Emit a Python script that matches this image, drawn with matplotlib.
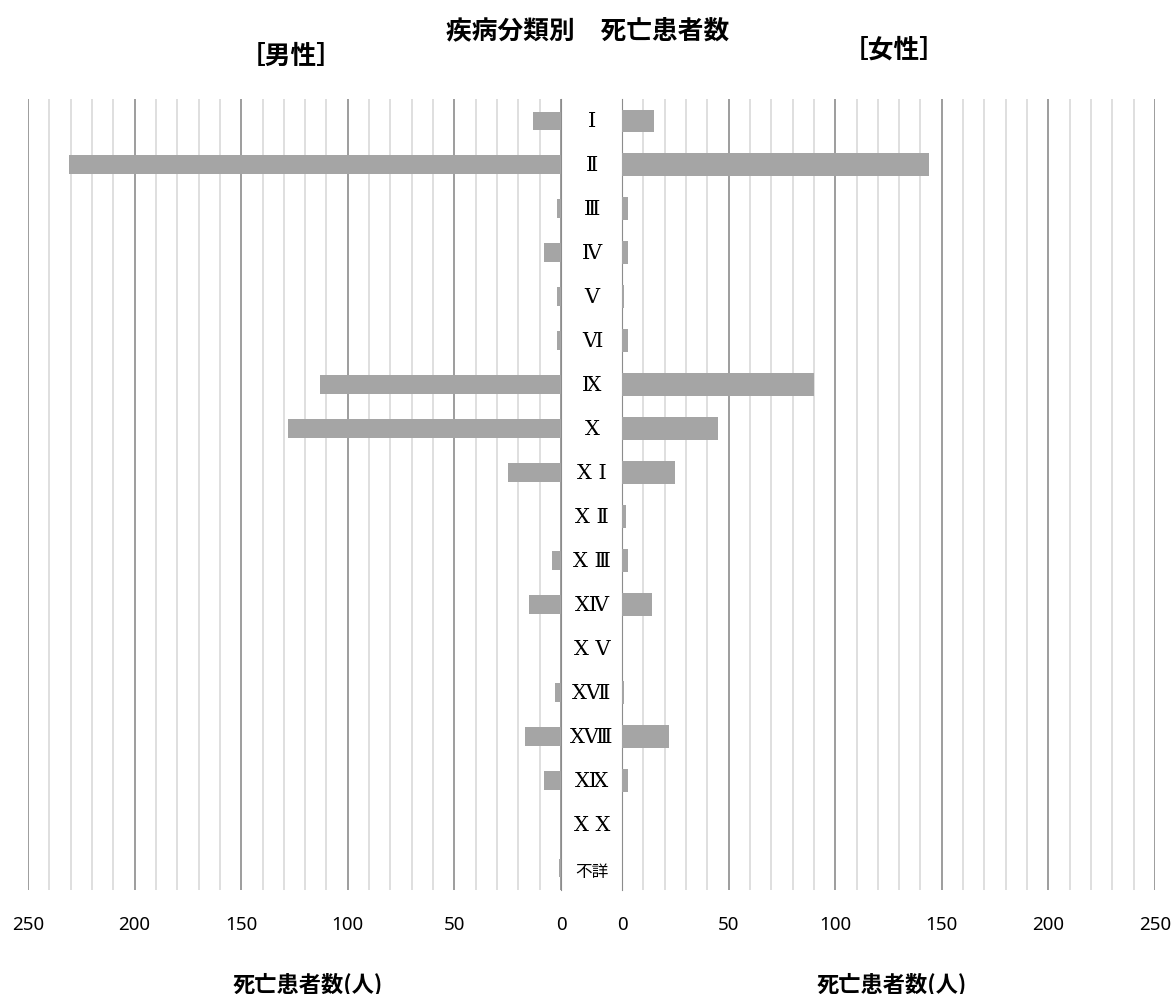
import matplotlib
matplotlib.use("Agg")
import matplotlib.pyplot as plt
import matplotlib.transforms as mtransforms
from matplotlib.ticker import MultipleLocator
import numpy as np

plt.rcParams['font.family'] = ['Noto Sans', 'Noto Sans CJK JP', 'DejaVu Sans']

# 疾病分類
categories = ["Ⅰ", "Ⅱ", "Ⅲ", "Ⅳ", "Ⅴ", "Ⅵ", "Ⅸ", "Ⅹ", "Ⅹ Ⅰ", "Ⅹ Ⅱ",
              "Ⅹ Ⅲ", "ⅩⅣ", "Ⅹ Ⅴ", "ⅩⅦ", "ⅩⅧ", "ⅩⅨ", "Ⅹ Ⅹ", "不詳"]
male = [13, 231, 2, 8, 2, 2, 113, 128, 25, 0, 4, 15, 0, 3, 17, 8, 0, 1]
female = [15, 144, 3, 3, 1, 3, 90, 45, 25, 2, 3, 14, 0, 1, 22, 3, 0, 0]
ticks = [0, 50, 100, 150, 200, 250]

BAR = '#a5a5a5'
MAJOR = '#8c8c8c'
MINOR = '#d9d9d9'

fig = plt.figure(figsize=(11.75, 9.95), dpi=100)
W, H = 1175, 995
top, bottom = 100, 891
axL = fig.add_axes([28 / W, 1 - bottom / H, 533 / W, (bottom - top) / H])
axR = fig.add_axes([622 / W, 1 - bottom / H, 533 / W, (bottom - top) / H])

y = np.arange(len(categories))

for ax, vals, h in ((axL, male, 0.43), (axR, female, 0.52)):
    ax.set_xlim(0, 250)
    ax.set_ylim(len(categories) - 0.5, -0.5)
    ax.xaxis.set_minor_locator(MultipleLocator(10))
    ax.set_xticks(ticks)
    ax.set_xticklabels([str(t) for t in ticks], fontsize=13.5)
    ax.grid(which='minor', axis='x', color=MINOR, linewidth=1.2)
    ax.grid(which='major', axis='x', color=MAJOR, linewidth=1.2)
    ax.set_axisbelow(True)
    ax.barh(y, vals, height=h, color=BAR, zorder=3)
    ax.set_yticks([])
    ax.tick_params(axis='x', which='both', length=0, pad=18)
    for s in ax.spines.values():
        s.set_visible(False)

axL.invert_xaxis()
axL.spines['right'].set_visible(True)
axL.spines['right'].set_color(MAJOR)
axR.spines['left'].set_visible(True)
axR.spines['left'].set_color(MAJOR)

# 中央の分類名
trans = mtransforms.blended_transform_factory(fig.transFigure, axL.transData)
for i, c in enumerate(categories):
    if c == "不詳":
        fig.text(592 / W, i + 0.08, c, transform=trans, ha='center', va='center',
                 fontsize=12, family=['Noto Sans CJK JP'])
    else:
        fig.text(592 / W, i, c, transform=trans, ha='center', va='center',
                 fontsize=15, family=['DejaVu Serif', 'Noto Sans CJK JP'])

fig.text(588 / W, 1 - 31 / H, "疾病分類別　死亡患者数", ha='center', va='center',
         fontsize=18.5, fontweight='bold', family=['Noto Sans CJK JP'])
fig.text(291 / W, 1 - 56 / H, "［男性］", ha='center', va='center',
         fontsize=18.5, fontweight='bold', family=['Noto Sans CJK JP'])
fig.text(894 / W, 1 - 50 / H, "［女性］", ha='center', va='center',
         fontsize=18.5, fontweight='bold', family=['Noto Sans CJK JP'])
fig.text(308 / W, 1 - 985 / H, "死亡患者数(人)", ha='center', va='center',
         fontsize=16, fontweight='bold', family=['Noto Sans CJK JP'])
fig.text(892 / W, 1 - 985 / H, "死亡患者数(人)", ha='center', va='center',
         fontsize=16, fontweight='bold', family=['Noto Sans CJK JP'])

fig.savefig('out.png', dpi=100, facecolor='white')
